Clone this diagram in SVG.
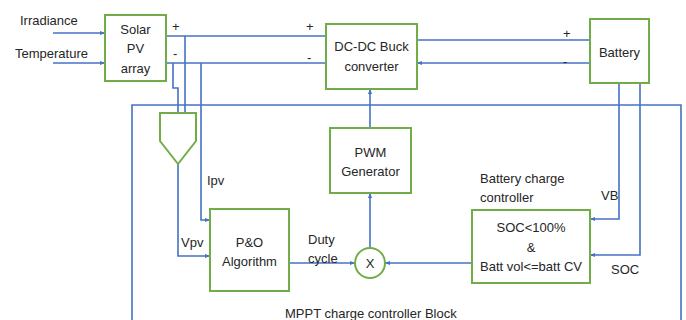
<svg xmlns="http://www.w3.org/2000/svg" width="686" height="320" viewBox="0 0 686 320">
<defs>
<marker id="ah" viewBox="0 0 10 10" refX="10" refY="5" markerWidth="5" markerHeight="5" orient="auto-start-reverse" markerUnits="userSpaceOnUse">
<path d="M0,1 L10,5 L0,9 z" fill="#4472C4"/>
</marker>
<style>
.box{fill:#fff;stroke:#70AD47;stroke-width:2}
.ln{fill:none;stroke:#4472C4;stroke-width:1.6}
text{font-family:"Liberation Sans",Arial,sans-serif;font-size:13px;fill:#262626}
.c{text-anchor:middle}
</style>
</defs>
<rect width="686" height="320" fill="#fff"/>
<g id="connectors">
<path class="ln" d="M132,320 V105 H681 V320"/>
<path class="ln" d="M53,33 H105" marker-end="url(#ah)"/>
<path class="ln" d="M53,63 H105" marker-end="url(#ah)"/>
<path class="ln" d="M166,36 H326"/>
<path class="ln" d="M166,63 H326"/>
<path class="ln" d="M185,36 V113"/>
<path class="ln" d="M173,63 V88 H178 V113"/>
<path class="ln" d="M201,63 V220 H210" marker-end="url(#ah)"/>
<path class="ln" d="M178,164 V256 H210" marker-end="url(#ah)"/>
<path class="ln" d="M417,40 H590"/>
<path class="ln" d="M590,63 H417" marker-end="url(#ah)"/>
<path class="ln" d="M370,128 V89" marker-end="url(#ah)"/>
<path class="ln" d="M370,248 V193" marker-end="url(#ah)"/>
<path class="ln" d="M289,263 H355" marker-end="url(#ah)"/>
<path class="ln" d="M472,263 H385" marker-end="url(#ah)"/>
<path class="ln" d="M619,83 V219 H590" marker-end="url(#ah)"/>
<path class="ln" d="M640,83 V255 H590" marker-end="url(#ah)"/>
</g>
<g id="solar">
<rect class="box" x="105" y="15" width="61" height="66"/>
<text class="c" x="135.5" y="34">Solar</text>
<text class="c" x="135.5" y="53">PV</text>
<text class="c" x="135.5" y="73">array</text>
</g>
<g id="dcdc">
<rect class="box" x="326" y="24" width="91" height="65"/>
<text class="c" x="371.5" y="51">DC-DC Buck</text>
<text class="c" x="371.5" y="71">converter</text>
</g>
<g id="battery">
<rect class="box" x="590" y="19" width="59" height="64"/>
<text class="c" x="619.5" y="57">Battery</text>
</g>
<g id="sensor">
<path class="box" d="M160,113 H196 V141 L178,164 L160,141 Z"/>
</g>
<g id="po">
<rect class="box" x="210" y="209" width="79" height="82"/>
<text class="c" x="249.5" y="247">P&amp;O</text>
<text class="c" x="249.5" y="266">Algorithm</text>
</g>
<g id="pwm">
<rect class="box" x="330" y="128" width="81" height="65"/>
<text class="c" x="370.5" y="157">PWM</text>
<text class="c" x="370.5" y="176">Generator</text>
</g>
<g id="mult">
<circle class="box" cx="370" cy="263" r="15"/>
<text class="c" x="370" y="268">X</text>
</g>
<g id="bcc">
<rect class="box" x="472" y="210" width="118" height="73"/>
<text class="c" x="531" y="232">SOC&lt;100%</text>
<text class="c" x="531" y="252">&amp;</text>
<text class="c" x="531" y="271">Batt vol&lt;=batt CV</text>
</g>
<g id="labels">
<text x="20" y="25">Irradiance</text>
<text x="15" y="58">Temperature</text>
<text x="172" y="31">+</text>
<text x="173" y="58">-</text>
<text x="306" y="31">+</text>
<text x="307" y="62">-</text>
<text x="563" y="38">+</text>
<text x="563" y="66">-</text>
<text x="207" y="185">Ipv</text>
<text x="181" y="247">Vpv</text>
<text x="308" y="244">Duty</text>
<text x="308" y="263">cycle</text>
<text x="480" y="183">Battery charge</text>
<text x="480" y="202">controller</text>
<text x="601" y="200">VB</text>
<text x="611" y="274">SOC</text>
<text x="285" y="318">MPPT charge controller Block</text>
</g>
</svg>
